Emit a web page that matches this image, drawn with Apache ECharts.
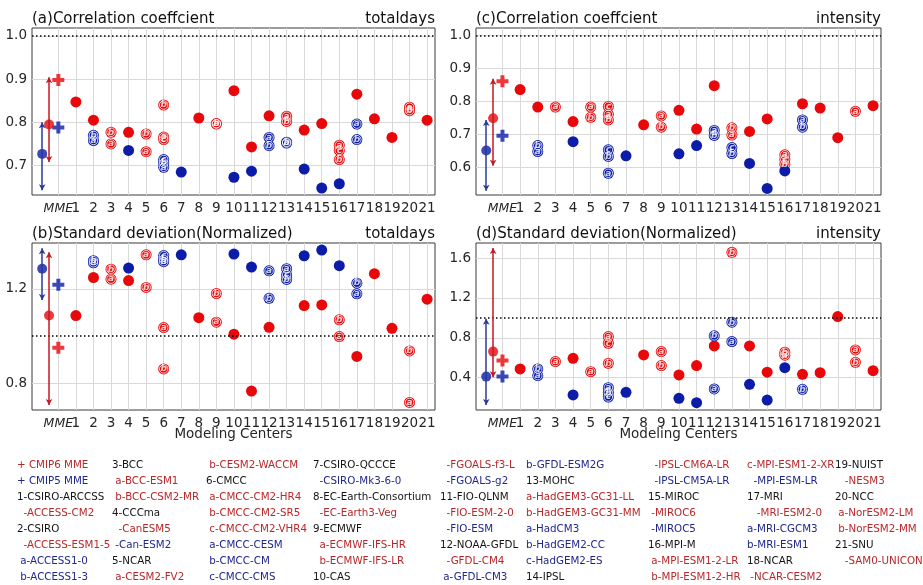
<!DOCTYPE html>
<html>
<head>
<meta charset="utf-8">
<script src="https://cdn.jsdelivr.net/npm/echarts@6/dist/echarts.min.js"></script>
<style>
  html, body { margin: 0; padding: 0; background: #fff; }
  #chart { width: 923px; height: 585px; }
</style>
</head>
<body>
<div id="chart"></div>
<script>
// x tick labels: MME + modeling centers 1..21
const centers = ['MME', '1', '2', '3', '4', '5', '6', '7', '8', '9', '10', '11',
  '12', '13', '14', '15', '16', '17', '18', '19', '20', '21'];

// [center, value, model letter]  ('' = single model)
// (a) correlation coefficient, totaldays
const aCmip6 = [[1, 0.847, ''], [2, 0.805, ''], [3, 0.777, 'b'], [3, 0.750, 'a'], [4, 0.777, ''],
  [5, 0.773, 'b'], [5, 0.732, 'a'], [6, 0.840, 'b'], [6, 0.760, 'c'], [6, 0.766, 'a'], [8, 0.810, ''],
  [9, 0.797, 'b'], [9, 0.796, 'a'], [10, 0.873, ''], [11, 0.743, ''], [12, 0.815, ''], [13, 0.814, 'a'],
  [13, 0.802, 'b'], [14, 0.782, ''], [15, 0.797, ''], [16, 0.714, 'b'], [16, 0.735, 'c'], [16, 0.747, 'a'],
  [17, 0.865, ''], [18, 0.808, ''], [19, 0.765, ''], [20, 0.827, 'b'], [20, 0.835, 'a'], [21, 0.805, '']];
const aCmip5 = [[2, 0.758, 'a'], [2, 0.770, 'b'], [4, 0.735, ''], [6, 0.696, 'a'], [6, 0.706, 'b'],
  [6, 0.714, 'c'], [7, 0.685, ''], [10, 0.673, ''], [11, 0.687, ''], [12, 0.746, 'b'], [12, 0.765, 'a'],
  [13, 0.752, 'b'], [13, 0.754, 'a'], [14, 0.692, ''], [15, 0.648, ''], [16, 0.658, ''],
  [17, 0.796, 'a'], [17, 0.760, 'b']];
const aSpread6 = [0.795, 0.708, 0.904];   // mean, min, max
const aSpread5 = [0.727, 0.643, 0.800];
const aMme6 = 0.898;
const aMme5 = 0.788;

// (b) normalized standard deviation, totaldays
const bCmip6 = [[1, 1.087, ''], [2, 1.248, ''], [3, 1.283, 'b'], [3, 1.241, 'a'], [4, 1.235, ''],
  [5, 1.344, 'a'], [5, 1.206, 'b'], [6, 1.036, 'a'], [6, 0.861, 'b'], [8, 1.078, ''], [9, 1.180, 'b'],
  [9, 1.059, 'a'], [10, 1.008, ''], [11, 0.767, ''], [12, 1.037, ''], [14, 1.129, ''], [15, 1.132, ''],
  [16, 1.069, 'b'], [16, 0.998, 'a'], [17, 0.914, ''], [18, 1.264, ''], [19, 1.033, ''],
  [20, 0.937, 'b'], [20, 0.719, 'a'], [21, 1.156, '']];
const bCmip5 = [[2, 1.310, 'a'], [2, 1.319, 'b'], [4, 1.288, ''], [6, 1.315, 'a'], [6, 1.325, 'b'],
  [6, 1.341, 'c'], [7, 1.344, ''], [10, 1.347, ''], [11, 1.292, ''], [12, 1.276, 'a'], [12, 1.160, 'b'],
  [13, 1.240, 'b'], [13, 1.259, 'c'], [13, 1.285, 'a'], [14, 1.340, ''], [15, 1.364, ''], [16, 1.298, ''],
  [17, 1.224, 'b'], [17, 1.179, 'a']];
const bSpread6 = [1.087, 0.708, 1.355];
const bSpread5 = [1.285, 1.153, 1.372];
const bMme6 = 0.951;
const bMme5 = 1.217;

// (c) correlation coefficient, intensity
const cCmip6 = [[1, 0.836, ''], [2, 0.783, ''], [3, 0.783, 'a'], [4, 0.739, ''], [5, 0.752, 'b'],
  [5, 0.783, 'a'], [6, 0.744, 'b'], [6, 0.761, 'a'], [6, 0.785, 'c'], [8, 0.729, ''], [9, 0.722, 'b'],
  [9, 0.756, 'a'], [10, 0.773, ''], [11, 0.716, ''], [12, 0.848, ''], [13, 0.698, 'a'], [13, 0.720, 'b'],
  [14, 0.709, ''], [15, 0.747, ''], [16, 0.609, 'b'], [16, 0.624, 'c'], [16, 0.638, 'a'], [17, 0.793, ''],
  [18, 0.780, ''], [19, 0.690, ''], [20, 0.770, 'a'], [21, 0.787, '']];
const cCmip5 = [[2, 0.648, 'a'], [2, 0.666, 'b'], [4, 0.678, ''], [6, 0.582, 'a'], [6, 0.633, 'b'],
  [6, 0.653, 'c'], [7, 0.635, ''], [10, 0.641, ''], [11, 0.666, ''], [12, 0.697, 'b'], [12, 0.712, 'a'],
  [13, 0.642, 'b'], [13, 0.660, 'c'], [14, 0.612, ''], [15, 0.536, ''], [16, 0.589, ''],
  [17, 0.722, 'b'], [17, 0.744, 'a']];
const cSpread6 = [0.749, 0.605, 0.869];
const cSpread5 = [0.651, 0.529, 0.744];
const cMme6 = 0.861;
const cMme5 = 0.696;

// (d) normalized standard deviation, intensity
const dCmip6 = [[1, 0.487, ''], [3, 0.561, 'a'], [4, 0.594, ''], [5, 0.460, 'a'], [6, 0.745, 'c'],
  [6, 0.812, 'a'], [6, 0.544, 'b'], [8, 0.628, ''], [9, 0.661, 'a'], [9, 0.521, 'b'], [10, 0.427, ''],
  [11, 0.521, ''], [12, 0.718, ''], [13, 1.657, 'b'], [14, 0.718, ''], [15, 0.454, ''], [16, 0.625, 'a'],
  [16, 0.655, 'b'], [17, 0.433, ''], [18, 0.450, ''], [19, 1.013, ''], [20, 0.678, 'a'],
  [20, 0.554, 'b'], [21, 0.470, '']];
const dCmip5 = [[2, 0.420, 'a'], [2, 0.487, 'b'], [4, 0.226, ''], [6, 0.205, 'c'], [6, 0.250, 'b'],
  [6, 0.299, 'a'], [7, 0.252, ''], [10, 0.192, ''], [11, 0.148, ''], [12, 0.819, 'b'], [12, 0.286, 'a'],
  [13, 0.956, 'b'], [13, 0.762, 'a'], [14, 0.333, ''], [15, 0.175, ''], [16, 0.500, ''], [17, 0.283, 'b']];
const dSpread6 = [0.661, 0.403, 1.700];
const dSpread5 = [0.410, 0.125, 0.990];
const dMme6 = 0.571;
const dMme5 = 0.410;

// y tick labels per panel
const aTicks = [0.7, 0.8, 0.9, 1.0];
const bTicks = [0.8, 1.2];
const cTicks = [0.6, 0.7, 0.8, 0.9, 1.0];
const dTicks = [0.4, 0.8, 1.2, 1.6];

// legend text: [text, kind]  k = header, r = CMIP6, b = CMIP5
const legendCols = [
  [['+ CMIP6 MME', 'r'], ['+ CMIP5 MME', 'b'], ['1-CSIRO-ARCCSS', 'k'], ['  -ACCESS-CM2', 'r'],
   ['2-CSIRO', 'k'], ['  -ACCESS-ESM1-5', 'r'], [' a-ACCESS1-0', 'b'], [' b-ACCESS1-3', 'b']],
  [['3-BCC', 'k'], [' a-BCC-ESM1', 'r'], [' b-BCC-CSM2-MR', 'r'], ['4-CCCma', 'k'],
   ['  -CanESM5', 'r'], [' -Can-ESM2', 'b'], ['5-NCAR', 'k'], [' a-CESM2-FV2', 'r']],
  [[' b-CESM2-WACCM', 'r'], ['6-CMCC', 'k'], [' a-CMCC-CM2-HR4', 'r'], [' b-CMCC-CM2-SR5', 'r'],
   [' c-CMCC-CM2-VHR4', 'r'], [' a-CMCC-CESM', 'b'], [' b-CMCC-CM', 'b'], [' c-CMCC-CMS', 'b']],
  [['7-CSIRO-QCCCE', 'k'], ['  -CSIRO-Mk3-6-0', 'b'], ['8-EC-Earth-Consortium', 'k'], ['  -EC-Earth3-Veg', 'r'],
   ['9-ECMWF', 'k'], ['  a-ECMWF-IFS-HR', 'r'], ['  b-ECMWF-IFS-LR', 'r'], ['10-CAS', 'k']],
  [['  -FGOALS-f3-L', 'r'], ['  -FGOALS-g2', 'b'], ['11-FIO-QLNM', 'k'], ['  -FIO-ESM-2-0', 'r'],
   ['  -FIO-ESM', 'b'], ['12-NOAA-GFDL', 'k'], ['  -GFDL-CM4', 'r'], [' a-GFDL-CM3', 'b']],
  [['b-GFDL-ESM2G', 'b'], ['13-MOHC', 'k'], ['a-HadGEM3-GC31-LL', 'r'], ['b-HadGEM3-GC31-MM', 'r'],
   ['a-HadCM3', 'b'], ['b-HadGEM2-CC', 'b'], ['c-HadGEM2-ES', 'b'], ['14-IPSL', 'k']],
  [['  -IPSL-CM6A-LR', 'r'], ['  -IPSL-CM5A-LR', 'b'], ['15-MIROC', 'k'], [' -MIROC6', 'r'],
   [' -MIROC5', 'b'], ['16-MPI-M', 'k'], [' a-MPI-ESM1-2-LR', 'r'], [' b-MPI-ESM1-2-HR', 'r']],
  [['c-MPI-ESM1-2-XR', 'r'], ['  -MPI-ESM-LR', 'b'], ['17-MRI', 'k'], ['   -MRI-ESM2-0', 'r'],
   ['a-MRI-CGCM3', 'b'], ['b-MRI-ESM1', 'b'], ['18-NCAR', 'k'], [' -NCAR-CESM2', 'r']],
  [['19-NUIST', 'k'], ['   -NESM3', 'r'], ['20-NCC', 'k'], [' a-NorESM2-LM', 'r'],
   [' b-NorESM2-MM', 'r'], ['21-SNU', 'k'], ['   -SAM0-UNICON', 'r']]
];

const FONT = '"DejaVu Sans", sans-serif';
const RED = '#e8080a';
const BLUE = '#0b1ca8';
const RED_BAR = '#c21a22';
const BLUE_BAR = '#2c3a98';
const GRID_C = '#d9d9d9';
const LABEL_C = '#262626';
const legendColor = { k: '#141414', r: '#b8282a', b: '#20288c' };

const chart = echarts.init(document.getElementById('chart'), null, { renderer: 'canvas' });

const grids = [
  { left: 32, top: 28, width: 403, height: 167 },   // a
  { left: 32, top: 243, width: 403, height: 167 },  // b
  { left: 476, top: 28, width: 405, height: 167 },  // c
  { left: 476, top: 243, width: 405, height: 167 }  // d
].map(g => Object.assign(g, { show: true, borderColor: '#3a3a3a', borderWidth: 1, backgroundColor: 'transparent' }));

const xTicks = centers.map((c, i) => i);
const centerTicks = xTicks.slice(1);

// main x axis: grid lines at every position, labels for centers 1..21
function xAxis(gi) {
  return {
    gridIndex: gi, type: 'value', position: 'bottom', min: -1.5, max: 21.45,
    axisLine: { show: false },
    axisTick: { show: false, customValues: xTicks },
    axisLabel: {
      customValues: centerTicks, margin: 6, fontSize: 13.5, color: LABEL_C, fontFamily: FONT,
      showMinLabel: true, showMaxLabel: true, hideOverlap: false,
      formatter: v => centers[Math.round(v)]
    },
    splitLine: { show: true, lineStyle: { color: GRID_C, width: 1 } }
  };
}

// second x axis on the same grid, only for the italic MME label
function mmeAxis(gi) {
  return {
    gridIndex: gi, type: 'value', position: 'bottom', offset: 0, min: -1.5, max: 21.45,
    axisLine: { show: false },
    axisTick: { show: false, customValues: [0] },
    axisLabel: {
      customValues: [0], margin: 7, fontSize: 12.5, fontStyle: 'italic', color: LABEL_C, fontFamily: FONT,
      showMinLabel: true, showMaxLabel: true, formatter: () => centers[0]
    },
    splitLine: { show: false }
  };
}

function yAxis(gi, min, max, ticks) {
  return {
    gridIndex: gi, type: 'value', min: min, max: max,
    axisLine: { show: false },
    axisTick: { show: false, customValues: ticks },
    axisLabel: { customValues: ticks, margin: 5, fontSize: 13.5, color: LABEL_C, fontFamily: FONT,
      showMinLabel: true, showMaxLabel: true, formatter: v => v.toFixed(1) },
    splitLine: { show: true, lineStyle: { color: GRID_C, width: 1 } }
  };
}

const PLUS = 'path://M1,0H2V1H3V2H2V3H1V2H0V1H1Z';

function pointSeries(gi, pts, color) {
  const out = [];
  out.push({
    type: 'scatter', xAxisIndex: gi, yAxisIndex: gi, symbol: 'circle', symbolSize: 11,
    itemStyle: { color: color, opacity: 1 },
    data: pts.map(p => [p[0], p[1]]), silent: true
  });
  const lettered = pts.filter(p => p[2]);
  out.push({
    type: 'scatter', xAxisIndex: gi, yAxisIndex: gi, symbol: 'circle', symbolSize: 8.5,
    itemStyle: { color: 'transparent', borderColor: '#ffffff', borderWidth: 1 },
    label: { show: true, position: 'inside', formatter: p => p.data[2], color: '#fff',
      fontSize: 9, fontStyle: 'italic', fontWeight: 'bold', fontFamily: FONT },
    data: lettered.map(p => [p[0], p[1], p[2]]), silent: true
  });
  return out;
}

function spreadSeries(gi, xpos, spread, color, barColor) {
  return {
    type: 'scatter', xAxisIndex: gi, yAxisIndex: gi, symbol: 'circle', symbolSize: 10,
    itemStyle: { color: color }, data: [[xpos, spread[0]]], silent: true, z: 3,
    markLine: {
      silent: true, symbol: ['arrow', 'arrow'], symbolSize: [5, 6],
      label: { show: false },
      lineStyle: { color: barColor, width: 1.5, type: 'solid' },
      data: [[{ coord: [xpos, spread[1]] }, { coord: [xpos, spread[2]] }]]
    }
  };
}

function panelSeries(gi, c6, c5, s6, s5, m6, m5) {
  const s = [];
  s.push({
    type: 'scatter', xAxisIndex: gi, yAxisIndex: gi, data: [], silent: true,
    markLine: {
      silent: true, symbol: 'none', label: { show: false },
      lineStyle: { color: '#000', width: 1.5, type: [1.5, 2.5] },
      data: [{ yAxis: 1.0 }]
    }
  });
  s.push(spreadSeries(gi, -0.92, s5, BLUE, BLUE_BAR));
  s.push(spreadSeries(gi, -0.53, s6, RED, RED_BAR));
  s.push({ type: 'scatter', xAxisIndex: gi, yAxisIndex: gi, symbol: PLUS, symbolSize: 12,
    itemStyle: { color: RED }, data: [[0, m6]], silent: true });
  s.push({ type: 'scatter', xAxisIndex: gi, yAxisIndex: gi, symbol: PLUS, symbolSize: 12,
    itemStyle: { color: BLUE }, data: [[0, m5]], silent: true });
  s.push(...pointSeries(gi, c6, RED));
  s.push(...pointSeries(gi, c5, BLUE));
  return s;
}

const series = [].concat(
  panelSeries(0, aCmip6, aCmip5, aSpread6, aSpread5, aMme6, aMme5),
  panelSeries(1, bCmip6, bCmip5, bSpread6, bSpread5, bMme6, bMme5),
  panelSeries(2, cCmip6, cCmip5, cSpread6, cSpread5, cMme6, cMme5),
  panelSeries(3, dCmip6, dCmip5, dSpread6, dSpread5, dMme6, dMme5)
);

// text: panel titles, axis names, legend
const graphic = [];
function txt(x, y, text, opts) {
  graphic.push({
    type: 'text', x: x, y: y, silent: true,
    style: Object.assign({ text: text, fill: '#111', font: '15px ' + FONT, align: 'left', verticalAlign: 'middle' }, opts || {})
  });
}
txt(32, 19, '(a)Correlation coeffcient');
txt(435, 19, 'totaldays', { align: 'right' });
txt(476, 19, '(c)Correlation coeffcient');
txt(881, 19, 'intensity', { align: 'right' });
txt(32, 234, '(b)Standard deviation(Normalized)');
txt(435, 234, 'totaldays', { align: 'right' });
txt(476, 234, '(d)Standard deviation(Normalized)');
txt(881, 234, 'intensity', { align: 'right' });
txt(233.5, 434, 'Modeling Centers', { align: 'center', font: '13.5px ' + FONT, fill: LABEL_C });
txt(678.5, 434, 'Modeling Centers', { align: 'center', font: '13.5px ' + FONT, fill: LABEL_C });

const legendX = [17, 112, 206, 313, 440, 526, 648, 747, 835];
legendCols.forEach((col, ci) => {
  col.forEach((item, ri) => {
    txt(legendX[ci], 465 + ri * 16.1, item[0],
      { font: '10.3px ' + FONT, fill: legendColor[item[1]] });
  });
});

chart.setOption({
  animation: false,
  backgroundColor: '#ffffff',
  grid: grids,
  xAxis: [xAxis(0), xAxis(1), xAxis(2), xAxis(3), mmeAxis(0), mmeAxis(1), mmeAxis(2), mmeAxis(3)],
  yAxis: [
    yAxis(0, 0.632, 1.018, aTicks),
    yAxis(1, 0.687, 1.394, bTicks),
    yAxis(2, 0.516, 1.023, cTicks),
    yAxis(3, 0.075, 1.751, dTicks)
  ],
  series: series,
  graphic: graphic
});
</script>
</body>
</html>
